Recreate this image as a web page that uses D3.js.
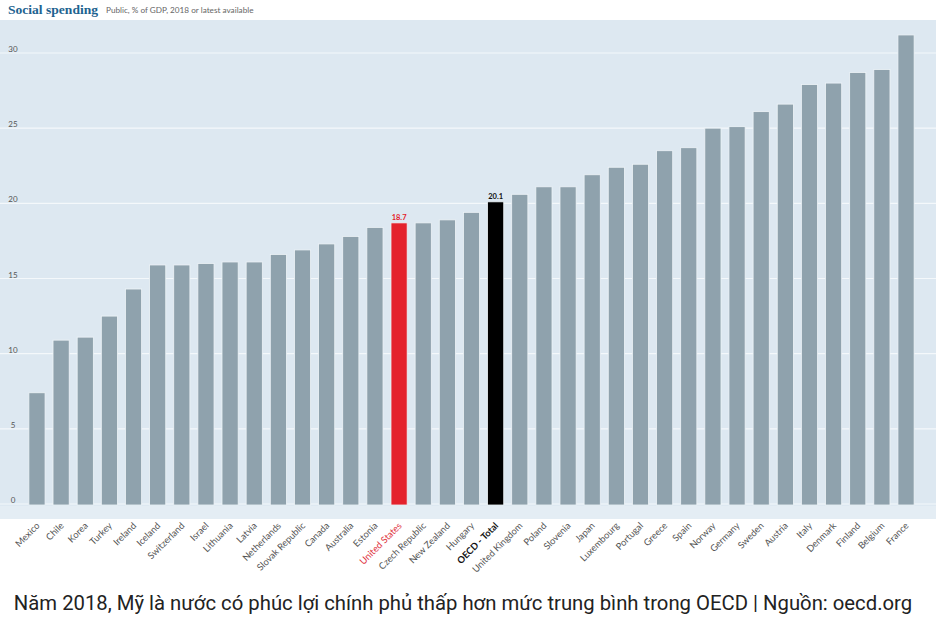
<!DOCTYPE html>
<html>
<head>
<meta charset="utf-8">
<script src="https://cdn.jsdelivr.net/npm/d3@7"></script>
<style>
  html, body { margin: 0; padding: 0; background: #ffffff; }
  svg { display: block; }
</style>
</head>
<body>
<svg id="chart" width="936" height="626"></svg>
<script>
const countries = ["Mexico","Chile","Korea","Turkey","Ireland","Iceland","Switzerland","Israel","Lithuania","Latvia","Netherlands","Slovak Republic","Canada","Australia","Estonia","United States","Czech Republic","New Zealand","Hungary","OECD - Total","United Kingdom","Poland","Slovenia","Japan","Luxembourg","Portugal","Greece","Spain","Norway","Germany","Sweden","Austria","Italy","Denmark","Finland","Belgium","France"];
const values = [7.4,10.9,11.1,12.5,14.3,15.9,15.9,16.0,16.1,16.1,16.6,16.9,17.3,17.8,18.4,18.7,18.7,18.9,19.4,20.1,20.6,21.1,21.1,21.9,22.4,22.6,23.5,23.7,25.0,25.1,26.1,26.6,27.9,28.0,28.7,28.9,31.2];
const yTicks = [0,5,10,15,20,25,30];
const highlightUS = "United States";
const highlightOECD = "OECD - Total";

const svg = d3.select("#chart");

// panel
svg.append("rect").attr("x",0).attr("y",20).attr("width",936).attr("height",499).attr("fill","#dde8f1");
svg.append("rect").attr("x",0).attr("y",506).attr("width",936).attr("height",13).attr("fill","#e4edf4");

const x = d3.scaleBand().domain(countries).range([24.9, 918.1]).paddingInner(0.33).paddingOuter(0.165);
const y = d3.scaleLinear().domain([0,30]).range([504, 53]);

// grid
const grid = svg.append("g");
grid.selectAll("line").data(yTicks).join("line")
  .attr("x1",0).attr("x2",936)
  .attr("y1",d=>y(d)).attr("y2",d=>y(d))
  .attr("stroke","#f4f8fb").attr("stroke-width",1.2);

const yAxis = d3.axisLeft(y).tickValues(yTicks).tickSize(0).tickPadding(0);
const ya = svg.append("g").attr("transform","translate(16,-4)").call(yAxis);
ya.select(".domain").remove();
ya.selectAll("text").attr("font-family","Lato, sans-serif").attr("font-size","8px").attr("fill","#555").attr("text-anchor","middle").attr("x",-3);

// bars
svg.append("g").selectAll("rect").data(countries).join("rect")
  .attr("x", d=>x(d))
  .attr("width", x.bandwidth())
  .attr("y", (d,i)=>y(values[i]))
  .attr("height", (d,i)=>y(0)-y(values[i])+1)
  .attr("fill", d=> d===highlightUS ? "#e4222c" : d===highlightOECD ? "#000000" : "#8fa2ad")
  .attr("stroke","#eef4f8").attr("stroke-width",0.8);

// value labels
[highlightUS, highlightOECD].forEach(c=>{
  const i = countries.indexOf(c);
  svg.append("text")
    .attr("x", x(c)+x.bandwidth()/2)
    .attr("y", y(values[i])-3)
    .attr("text-anchor","middle")
    .attr("font-family","Lato, sans-serif").attr("font-weight","bold").attr("font-size","7.5px")
    .attr("fill", c===highlightUS ? "#e4222c" : "#111")
    .text(values[i].toFixed(1));
});

// x labels
const xAxis = d3.axisBottom(x).tickSize(0).tickPadding(0);
const xa = svg.append("g").attr("transform","translate(0,522)").call(xAxis);
xa.select(".domain").remove();
xa.selectAll("text")
  .attr("font-family","Lato, sans-serif").attr("font-size","9.3px")
  .attr("fill", d=> d===highlightUS ? "#e0303c" : d===highlightOECD ? "#111" : "#555")
  .attr("font-weight", d=> d===highlightOECD ? "bold" : "normal")
  .attr("text-anchor","end")
  .attr("dy","0.35em")
  .attr("transform","translate(1,2) rotate(-45)");

// title
svg.append("text").attr("x",8).attr("y",14)
  .attr("font-family","'Liberation Serif', serif").attr("font-weight","bold").attr("font-size","13.5px")
  .attr("textLength",90).attr("lengthAdjust","spacingAndGlyphs")
  .attr("fill","#1d6390").text("Social spending");
svg.append("text").attr("x",106).attr("y",13)
  .attr("font-family","Lato, sans-serif").attr("font-size","8.2px")
  .attr("fill","#666").text("Public, % of GDP, 2018 or latest available");

// caption
svg.append("text").attr("x",463).attr("y",610).attr("text-anchor","middle")
  .attr("font-family","Roboto, sans-serif").attr("font-size","20.3px")
  .attr("fill","#222").text("Năm 2018, Mỹ là nước có phúc lợi chính phủ thấp hơn mức trung bình trong OECD | Nguồn: oecd.org");
</script>
</body>
</html>
